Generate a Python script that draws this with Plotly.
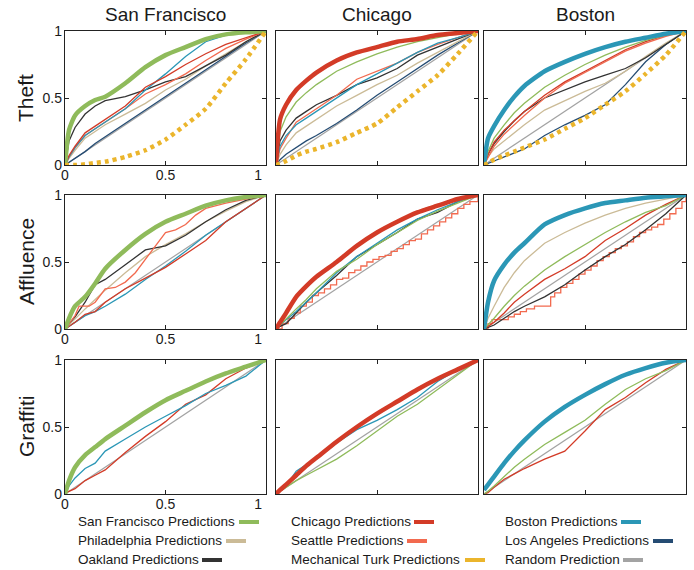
import plotly.graph_objects as go

W, H = 694, 570
FPR = [0, 0.02, 0.05, 0.1, 0.15, 0.2, 0.3, 0.4, 0.5, 0.6, 0.7, 0.8, 0.9, 1.0]

COLUMNS = ["San Francisco", "Chicago", "Boston"]
ROWS = ["Theft", "Affluence", "Graffiti"]
TICK_VALS = [0, 0.5, 1]
TICK_TEXT = ["0", "0.5", "1"]

COLORS = {
    "San Francisco": "#8fbb5b",
    "Philadelphia": "#cbbb97",
    "Oakland": "#333333",
    "Chicago": "#d33b27",
    "Seattle": "#f26a4f",
    "Mechanical Turk": "#ebb52c",
    "Boston": "#2b97b6",
    "Los Angeles": "#254c73",
    "Random": "#a3a3a3",
}

# ---------------- Theft ----------------
theft_sf = {
    "Los Angeles": [0, 0.02, 0.05, 0.1, 0.16, 0.21, 0.31, 0.41, 0.51, 0.61, 0.71, 0.81, 0.91, 1],
    "Philadelphia": [0, 0.05, 0.11, 0.2, 0.25, 0.3, 0.38, 0.46, 0.56, 0.64, 0.74, 0.83, 0.92, 1],
    "Oakland": [0, 0.18, 0.28, 0.38, 0.44, 0.48, 0.51, 0.56, 0.62, 0.66, 0.74, 0.82, 0.92, 1],
    "Seattle": [0, 0.06, 0.13, 0.22, 0.27, 0.32, 0.42, 0.53, 0.6, 0.68, 0.78, 0.87, 0.94, 1],
    "Boston": [0, 0.06, 0.13, 0.22, 0.27, 0.32, 0.42, 0.56, 0.68, 0.81, 0.92, 0.97, 0.99, 1],
    "Chicago": [0, 0.07, 0.14, 0.24, 0.29, 0.34, 0.44, 0.58, 0.66, 0.75, 0.83, 0.9, 0.95, 1],
    "San Francisco": [0, 0.26, 0.37, 0.44, 0.485, 0.51, 0.61, 0.73, 0.82, 0.88, 0.94, 0.975, 0.99, 1],
    "Mechanical Turk": [0, 0, 0, 0.005, 0.015, 0.025, 0.06, 0.11, 0.19, 0.3, 0.42, 0.61, 0.79, 1],
}
theft_chi = {
    "Los Angeles": [0, 0.04, 0.08, 0.13, 0.18, 0.22, 0.31, 0.41, 0.52, 0.62, 0.72, 0.82, 0.91, 1],
    "Philadelphia": [0, 0.08, 0.15, 0.24, 0.29, 0.34, 0.44, 0.52, 0.6, 0.67, 0.76, 0.84, 0.92, 1],
    "Oakland": [0, 0.18, 0.26, 0.35, 0.4, 0.45, 0.52, 0.6, 0.65, 0.72, 0.82, 0.88, 0.94, 1],
    "Seattle": [0, 0.12, 0.2, 0.32, 0.37, 0.42, 0.52, 0.64, 0.7, 0.76, 0.84, 0.9, 0.95, 1],
    "Boston": [0, 0.14, 0.22, 0.3, 0.35, 0.4, 0.5, 0.6, 0.68, 0.76, 0.84, 0.91, 0.95, 1],
    "San Francisco": [0, 0.25, 0.36, 0.47, 0.54, 0.6, 0.7, 0.77, 0.83, 0.88, 0.92, 0.95, 0.98, 1],
    "Chicago": [0, 0.34, 0.45, 0.56, 0.63, 0.69, 0.78, 0.84, 0.88, 0.92, 0.94, 0.97, 0.985, 1],
    "Mechanical Turk": [0, 0.01, 0.03, 0.07, 0.1, 0.12, 0.17, 0.24, 0.31, 0.43, 0.55, 0.67, 0.83, 1],
}
theft_bos = {
    "Los Angeles": [0, 0.01, 0.03, 0.06, 0.09, 0.12, 0.22, 0.3, 0.37, 0.45, 0.6, 0.77, 0.9, 1],
    "Philadelphia": [0, 0.06, 0.12, 0.18, 0.24, 0.3, 0.41, 0.48, 0.55, 0.61, 0.7, 0.81, 0.91, 1],
    "Oakland": [0, 0.08, 0.16, 0.25, 0.33, 0.4, 0.5, 0.56, 0.62, 0.67, 0.72, 0.8, 0.9, 1],
    "Seattle": [0, 0.06, 0.14, 0.23, 0.3, 0.37, 0.5, 0.61, 0.69, 0.77, 0.85, 0.91, 0.96, 1],
    "Chicago": [0, 0.08, 0.17, 0.26, 0.33, 0.4, 0.52, 0.62, 0.7, 0.78, 0.86, 0.92, 0.97, 1],
    "San Francisco": [0, 0.1, 0.2, 0.3, 0.39, 0.46, 0.58, 0.67, 0.75, 0.82, 0.88, 0.93, 0.97, 1],
    "Boston": [0, 0.2, 0.29, 0.41, 0.51, 0.59, 0.7, 0.77, 0.83, 0.88, 0.92, 0.95, 0.98, 1],
    "Mechanical Turk": [0, 0.015, 0.04, 0.07, 0.1, 0.13, 0.19, 0.27, 0.35, 0.45, 0.55, 0.68, 0.82, 1],
}

# ---------------- Affluence ----------------
aff_sf_seattle_x = [0, 0.05, 0.07, 0.12, 0.15, 0.2, 0.25, 0.3, 0.35, 0.4, 0.45, 0.5, 0.55, 0.6, 0.65, 0.7, 0.8, 0.9, 1.0]
aff_sf_seattle_y = [0, 0.1, 0.17, 0.17, 0.2, 0.3, 0.31, 0.35, 0.42, 0.52, 0.62, 0.72, 0.74, 0.78, 0.85, 0.9, 0.94, 0.97, 1.0]
aff_chi_seattle_x = [0, .03, .06, .09, .12, .15, .18, .21, .24, .27, .3, .33, .36, .39, .42, .45, .48, .51,
                     .54, .57, .6, .63, .66, .69, .72, .75, .78, .81, .84, .87, .9, .93, .96, 1]
aff_chi_seattle_y = [0, .04, .08, .12, .17, .2, .25, .27, .3, .33, .37, .38, .42, .44, .47, .5, .52, .54,
                     .55, .58, .6, .63, .66, .67, .71, .74, .77, .8, .83, .86, .9, .93, .95, 1]
aff_bos_seattle_x = [0, .02, .04, .12, .15, .18, .21, .25, .33, .35, .38, .41, .44, .47, .5, .53, .56, .59,
                     .62, .65, .68, .71, .74, .77, .8, .83, .86, .89, .92, .95, .98, 1]
aff_bos_seattle_y = [0, .04, .07, .09, .11, .13, .15, .17, .24, .27, .31, .34, .37, .41, .44, .47, .51, .54,
                     .57, .6, .62, .65, .69, .72, .74, .76, .78, .82, .86, .9, .95, 1]

aff_sf = {
    "Boston": [0, 0.02, 0.05, 0.1, 0.13, 0.17, 0.26, 0.37, 0.47, 0.58, 0.7, 0.8, 0.9, 1],
    "Chicago": [0, 0.02, 0.05, 0.11, 0.13, 0.2, 0.3, 0.38, 0.46, 0.56, 0.66, 0.8, 0.9, 1],
    "Philadelphia": [0, 0.03, 0.08, 0.15, 0.22, 0.29, 0.42, 0.54, 0.63, 0.71, 0.8, 0.88, 0.95, 1],
    "Oakland": [0, 0.04, 0.09, 0.2, 0.33, 0.37, 0.48, 0.59, 0.62, 0.7, 0.8, 0.89, 0.96, 1],
    "Seattle": (aff_sf_seattle_x, aff_sf_seattle_y, "linear"),
    "San Francisco": [0, 0.08, 0.17, 0.24, 0.34, 0.45, 0.59, 0.71, 0.8, 0.86, 0.92, 0.96, 0.985, 1],
}
aff_chi = {
    "Seattle": (aff_chi_seattle_x, aff_chi_seattle_y, "hv"),
    "Oakland": [0, 0.02, 0.04, 0.12, 0.2, 0.27, 0.4, 0.54, 0.63, 0.72, 0.82, 0.87, 0.95, 1],
    "Boston": [0, 0.03, 0.07, 0.13, 0.2, 0.27, 0.42, 0.54, 0.64, 0.74, 0.82, 0.89, 0.95, 1],
    "San Francisco": [0, 0.03, 0.08, 0.15, 0.22, 0.3, 0.43, 0.52, 0.63, 0.72, 0.81, 0.88, 0.94, 1],
    "Philadelphia": [0, 0.06, 0.13, 0.25, 0.33, 0.4, 0.51, 0.63, 0.73, 0.81, 0.88, 0.93, 0.97, 1],
    "Chicago": [0, 0.05, 0.12, 0.24, 0.32, 0.39, 0.5, 0.62, 0.72, 0.8, 0.87, 0.92, 0.97, 1],
}
aff_bos = {
    "Seattle": (aff_bos_seattle_x, aff_bos_seattle_y, "hv"),
    "Oakland": [0, 0.01, 0.03, 0.08, 0.13, 0.17, 0.24, 0.33, 0.44, 0.54, 0.63, 0.74, 0.86, 1],
    "Chicago": [0, 0.02, 0.05, 0.12, 0.2, 0.26, 0.37, 0.45, 0.54, 0.66, 0.75, 0.85, 0.93, 1],
    "San Francisco": [0, 0.03, 0.08, 0.17, 0.25, 0.32, 0.44, 0.54, 0.63, 0.72, 0.8, 0.87, 0.92, 1],
    "Philadelphia": [0, 0.08, 0.17, 0.31, 0.42, 0.51, 0.64, 0.72, 0.79, 0.85, 0.9, 0.94, 0.97, 1],
    "Boston": [0, 0.2, 0.36, 0.48, 0.57, 0.64, 0.78, 0.85, 0.9, 0.94, 0.96, 0.98, 0.99, 1],
}

# ---------------- Graffiti ----------------
graf_sf = {
    "Chicago": [0, 0.02, 0.04, 0.1, 0.14, 0.18, 0.31, 0.43, 0.54, 0.67, 0.74, 0.86, 0.94, 1],
    "Boston": [0, 0.06, 0.12, 0.19, 0.23, 0.32, 0.41, 0.5, 0.58, 0.66, 0.75, 0.81, 0.88, 1],
    "San Francisco": [0, 0.1, 0.2, 0.29, 0.35, 0.41, 0.51, 0.61, 0.7, 0.77, 0.84, 0.9, 0.95, 1],
}
graf_chi = {
    "San Francisco": [0, 0.02, 0.05, 0.1, 0.14, 0.18, 0.26, 0.36, 0.47, 0.58, 0.67, 0.78, 0.89, 1],
    "Boston": [0, 0.02, 0.06, 0.17, 0.22, 0.26, 0.38, 0.48, 0.55, 0.63, 0.72, 0.84, 0.93, 1],
    "Chicago": [0, 0.03, 0.07, 0.14, 0.21, 0.27, 0.39, 0.5, 0.6, 0.69, 0.78, 0.86, 0.93, 1],
}
graf_bos = {
    "Chicago": [0, 0.01, 0.05, 0.11, 0.15, 0.19, 0.26, 0.32, 0.47, 0.63, 0.72, 0.83, 0.93, 1],
    "San Francisco": [0, 0.02, 0.06, 0.13, 0.2, 0.26, 0.37, 0.46, 0.55, 0.67, 0.78, 0.86, 0.92, 1],
    "Boston": [0.03, 0.07, 0.13, 0.23, 0.32, 0.4, 0.54, 0.65, 0.74, 0.82, 0.89, 0.94, 0.98, 1],
}

PANELS = [[theft_sf, theft_chi, theft_bos],
          [aff_sf, aff_chi, aff_bos],
          [graf_sf, graf_chi, graf_bos]]

LEGEND_COLS = [
    [("San Francisco Predictions", "San Francisco"), ("Philadelphia Predictions", "Philadelphia"), ("Oakland Predictions", "Oakland")],
    [("Chicago Predictions", "Chicago"), ("Seattle Predictions", "Seattle"), ("Mechanical Turk Predictions", "Mechanical Turk")],
    [("Boston Predictions", "Boston"), ("Los Angeles Predictions", "Los Angeles"), ("Random Prediction", "Random")],
]

# ---------------- layout geometry (pixels) ----------------
COL_PX = [(65, 266), (276, 478), (484, 686)]
ROW_PX = [(31, 165), (195, 329), (360, 494)]
FONT = "Liberation Sans, Arial, Helvetica, sans-serif"
TXT = "#1a1a1a"


def px(x):
    return x / W


def py(y):
    return 1 - y / H


fig = go.Figure()
layout = dict(
    width=W, height=H, margin=dict(l=0, r=0, t=0, b=0, autoexpand=False),
    paper_bgcolor="white", plot_bgcolor="white", showlegend=False,
    font=dict(family=FONT, color=TXT),
)

for r in range(3):
    for c in range(3):
        k = r * 3 + c + 1
        xa = "x" if k == 1 else f"x{k}"
        ya = "y" if k == 1 else f"y{k}"
        main = COLUMNS[c]
        data = PANELS[r][c]
        fig.add_trace(go.Scatter(x=FPR, y=FPR, mode="lines", xaxis=xa, yaxis=ya,
                                 line=dict(color=COLORS["Random"], width=1.2)))
        for name, vals in data.items():
            if name in (main, "Mechanical Turk"):
                continue
            if isinstance(vals, tuple):
                xs, ys, shape = vals
            else:
                xs, ys, shape = FPR, vals, "linear"
            fig.add_trace(go.Scatter(x=xs, y=ys, mode="lines", xaxis=xa, yaxis=ya,
                                     line=dict(color=COLORS[name], width=1.3, shape=shape)))
        fig.add_trace(go.Scatter(x=FPR, y=data[main], mode="lines", xaxis=xa, yaxis=ya,
                                 line=dict(color=COLORS[main], width=4.5, shape="spline", smoothing=0.6)))
        if "Mechanical Turk" in data:
            fig.add_trace(go.Scatter(x=FPR, y=data["Mechanical Turk"], mode="lines", xaxis=xa, yaxis=ya,
                                     line=dict(color=COLORS["Mechanical Turk"], width=4.5,
                                               dash="4px,4px", shape="spline", smoothing=0.6)))

        x0, x1 = COL_PX[c]
        y0, y1 = ROW_PX[r]
        common = dict(range=[0, 1], showgrid=False, zeroline=False, showline=True,
                      linecolor="#222222", linewidth=1.4, mirror="ticks",
                      ticks="inside", ticklen=4, tickwidth=1, tickcolor="#222222",
                      tickvals=TICK_VALS, tickfont=dict(size=14, family=FONT, color=TXT),
                      fixedrange=True, automargin=False)
        layout["xaxis" + ("" if k == 1 else str(k))] = dict(
            common, domain=[px(x0), px(x1)], anchor=ya, ticklabelstandoff=-3,
            ticktext=["0", "0.5", "1\u00a0\u00a0\u00a0\u00a0"], showticklabels=(c == 0))
        layout["yaxis" + ("" if k == 1 else str(k))] = dict(
            common, domain=[py(y1), py(y0)], anchor=xa, ticklabelstandoff=-1,
            ticktext=TICK_TEXT, showticklabels=(c == 0))

annotations = []
for c, name in enumerate(COLUMNS):
    x0, x1 = COL_PX[c]
    annotations.append(dict(text=name, x=px((x0 + x1) / 2), y=py(15), xref="paper", yref="paper",
                            showarrow=False, xanchor="center", yanchor="middle",
                            font=dict(size=19, family=FONT, color=TXT)))
for r, name in enumerate(ROWS):
    y0, y1 = ROW_PX[r]
    annotations.append(dict(text=name, x=px(26), y=py((y0 + y1) / 2), xref="paper", yref="paper",
                            showarrow=False, xanchor="center", yanchor="middle", textangle=-90,
                            font=dict(size=21, family=FONT, color=TXT)))

# legend: text followed by a short thick swatch
LEG_TEXT_X = [76, 289, 503]
LEG_ROW_Y = [521, 540, 559]
LEG_SWATCH_X = [[239, 226, 202], [414, 407, 465], [621, 653, 623]]
shapes = []
for c, col in enumerate(LEGEND_COLS):
    for r, (label, key) in enumerate(col):
        annotations.append(dict(text=label, x=px(LEG_TEXT_X[c]), y=py(LEG_ROW_Y[r]),
                                xref="paper", yref="paper", showarrow=False,
                                xanchor="left", yanchor="middle",
                                font=dict(size=13.5, family=FONT, color=TXT)))
        sx = LEG_SWATCH_X[c][r]
        shapes.append(dict(type="line", xref="paper", yref="paper",
                           x0=px(sx), x1=px(sx + 20), y0=py(LEG_ROW_Y[r] + 1), y1=py(LEG_ROW_Y[r] + 1),
                           line=dict(color=COLORS[key], width=4)))

layout["annotations"] = annotations
layout["shapes"] = shapes
fig.update_layout(**layout)
fig.write_html("out.html", config={"displayModeBar": False},
               post_script="document.body.style.margin='0';document.body.style.overflow='hidden';")
